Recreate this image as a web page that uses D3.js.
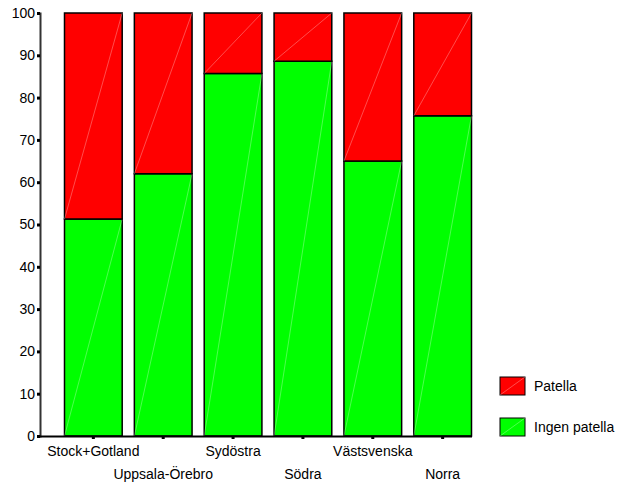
<!DOCTYPE html><html><head><meta charset="utf-8"><script src="https://cdn.jsdelivr.net/npm/d3@7"></script>
<style>body{margin:0;background:#fff}text{font-family:Arial,"Liberation Sans",sans-serif;font-size:14px;fill:#000}</style></head><body><svg width="621" height="486"></svg><script>
const categories=["Stock+Gotland","Uppsala-Örebro","Sydöstra","Södra","Västsvenska","Norra"];
const ingen=[51.3,62.0,85.7,88.6,65.0,75.7];
const patella=ingen.map(v=>100-v);
const yTicks=[0,10,20,30,40,50,60,70,80,90,100];
const svg=d3.select("svg");
const x=d3.scaleBand().domain(categories).range([61,475]).paddingInner(0.174).paddingOuter(0.05);
const y=d3.scaleLinear().domain([0,100]).range([436,13]);
const series=[{name:"Ingen patella",vals:ingen,color:"#00ff00",base:i=>0},{name:"Patella",vals:patella,color:"#ff0000",base:i=>ingen[i]}];
series.forEach(s=>{categories.forEach((c,i)=>{const x0=x(c),w=x.bandwidth(),y1=y(s.base(i)),y2=y(s.base(i)+s.vals[i]);
svg.append("rect").attr("x",x0).attr("y",y2).attr("width",w).attr("height",y1-y2).attr("fill",s.color).attr("stroke","#000").attr("stroke-width",1.5);
svg.append("line").attr("x1",x0).attr("y1",y1).attr("x2",x0+w).attr("y2",y2).attr("stroke","#fff").attr("stroke-opacity",0.5).attr("stroke-width",0.6);});});
const ya=svg.append("g").attr("transform","translate(40,0)").call(d3.axisLeft(y).tickValues(yTicks).tickSize(3));
ya.select(".domain").attr("stroke","#333").attr("stroke-width",2);ya.selectAll(".tick line").attr("stroke","#000").attr("stroke-width",3);
ya.selectAll("text").attr("x",-5).style("font-size","14px");
svg.append("line").attr("x1",40).attr("x2",472).attr("y1",436.5).attr("y2",436.5).attr("stroke","#000").attr("stroke-width",2);
categories.forEach((c,i)=>{const cx=x(c)+x.bandwidth()/2;
svg.append("rect").attr("x",cx-1.5).attr("y",436).attr("width",3).attr("height",3).attr("fill","#000");
svg.append("text").attr("x",cx).attr("y",i%2?479:456).attr("text-anchor","middle").text(c);});
[{s:series[1],y:377},{s:series[0],y:418}].forEach(l=>{
svg.append("rect").attr("x",500).attr("y",l.y).attr("width",25).attr("height",18).attr("fill",l.s.color).attr("stroke","#000");
svg.append("line").attr("x1",500).attr("y1",l.y+18).attr("x2",525).attr("y2",l.y).attr("stroke","#fff").attr("stroke-opacity",0.5).attr("stroke-width",0.6);
svg.append("text").attr("x",534).attr("y",l.y+14).text(l.s.name);});
</script></body></html>
